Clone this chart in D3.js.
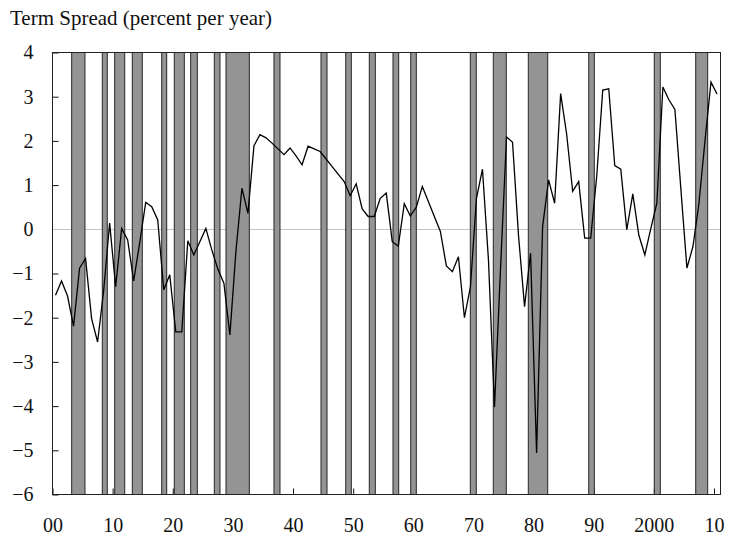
<!DOCTYPE html>
<html>
<head>
<meta charset="utf-8">
<script src="https://cdn.jsdelivr.net/npm/d3@7"></script>
<style>
  html, body { margin: 0; padding: 0; background: #fff; }
  svg text { font-family: "Liberation Serif", "Times New Roman", Times, serif; fill: #111; }
</style>
</head>
<body>
<svg id="chart" width="729" height="536"></svg>
<script>
// Annual term spread, percent per year, starting in 1900
const firstYear = 1900;
const spread = [
  -1.49, -1.17, -1.51, -2.19, -0.88, -0.66, -2.02, -2.55, -1.40, 0.14,
  -1.30, 0.02, -0.24, -1.17, -0.30, 0.61, 0.51, 0.21, -1.37, -1.03,
  -2.32, -2.32, -0.26, -0.58, -0.28, 0.02, -0.47, -0.90, -1.22, -2.39,
  -0.50, 0.93, 0.36, 1.89, 2.14, 2.07, 1.95, 1.82, 1.69, 1.84,
  1.66, 1.46, 1.88, 1.82, 1.76, 1.59, 1.42, 1.25, 1.08, 0.76,
  1.03, 0.46, 0.29, 0.29, 0.70, 0.82, -0.28, -0.38, 0.58, 0.30,
  0.50, 0.97, 0.63, 0.29, -0.05, -0.83, -0.96, -0.62, -2.00, -1.30,
  0.70, 1.36, -0.70, -4.02, -0.90, 2.09, 1.97, -0.15, -1.75, -0.54,
  -5.06, 0.06, 1.12, 0.59, 3.07, 2.15, 0.86, 1.08, -0.20, -0.20,
  1.20, 3.15, 3.18, 1.44, 1.36, -0.01, 0.80, -0.13, -0.58, 0.02,
  0.59, 3.22, 2.93, 2.71, 0.90, -0.88, -0.39, 0.59, 2.00, 3.33,
  3.06
];

// Shaded recession periods (start, end) on the same year axis
const recessionStart = [1903.19, 1908.28, 1910.34, 1913.27, 1918.16, 1920.25, 1922.98, 1926.91, 1928.85,
  1936.83, 1944.65, 1948.76, 1952.68, 1956.62, 1959.57, 1969.48, 1973.30, 1979.12, 1989.17, 2000.07, 2006.96];
const recessionEnd = [1905.40, 1909.11, 1912.01, 1914.93, 1918.99, 1921.92, 1924.08, 1927.85, 1932.73,
  1937.83, 1945.65, 1949.69, 1953.68, 1957.57, 1960.50, 1970.47, 1975.46, 1982.35, 1990.10, 2001.07, 2008.95];

// Axis ticks and their labels
const xTickYears = [1900, 1910, 1920, 1930, 1940, 1950, 1960, 1970, 1980, 1990, 2000, 2010];
const xTickLabels = ["00", "10", "20", "30", "40", "50", "60", "70", "80", "90", "2000", "10"];
const yTicks = [-6, -5, -4, -3, -2, -1, 0, 1, 2, 3, 4];

const plot = { left: 52.5, right: 720.5, top: 52.5, bottom: 494.5 };

const svg = d3.select("#chart");

const x = d3.scaleLinear().domain([1900, 2011]).range([plot.left, plot.right - 0.5]);
const y = d3.scaleLinear().domain([-6, 4]).range([plot.bottom, plot.top]);

const data = spread.map((v, i) => ({ year: firstYear + i, value: v }));
const recessions = recessionStart.map((s, i) => ({ start: s, end: recessionEnd[i] }));

// Title
svg.append("text")
  .attr("x", 10)
  .attr("y", 25)
  .attr("font-size", 21)
  .text("Term Spread (percent per year)");

// Zero reference line
svg.append("line")
  .attr("x1", plot.left).attr("x2", plot.right)
  .attr("y1", Math.round(y(0)) + 0.5).attr("y2", Math.round(y(0)) + 0.5)
  .attr("stroke", "#c4c4c4").attr("stroke-width", 1);

// Y axis: inward ticks, labels to the left
const yAxis = d3.axisLeft(y)
  .tickValues(yTicks)
  .tickSize(-6)
  .tickPadding(19)
  .tickFormat(d => d < 0 ? "\u2212" + Math.abs(d) : String(d));

const gy = svg.append("g")
  .attr("transform", `translate(${plot.left},0)`)
  .call(yAxis);
gy.select(".domain").remove();
gy.selectAll(".tick line").attr("stroke", "#111")
  .filter(d => d === 0).remove();
gy.selectAll(".tick text")
  .attr("font-size", 20)
  .attr("font-family", "'Liberation Serif', 'Times New Roman', serif")
  .attr("fill", "#111");

// X axis: inward ticks, labels below
const xAxis = d3.axisBottom(x)
  .tickValues(xTickYears)
  .tickSize(-6)
  .tickPadding(23)
  .tickFormat((d, i) => xTickLabels[i]);

const gx = svg.append("g")
  .attr("transform", `translate(0,${plot.bottom})`)
  .call(xAxis);
gx.select(".domain").remove();
gx.selectAll(".tick line").attr("stroke", "#111");
gx.selectAll(".tick text")
  .attr("font-size", 20)
  .attr("font-family", "'Liberation Serif', 'Times New Roman', serif")
  .attr("fill", "#111");

// Recession shading
svg.append("g")
  .selectAll("rect")
  .data(recessions)
  .join("rect")
  .attr("x", d => x(d.start))
  .attr("width", d => x(d.end) - x(d.start))
  .attr("y", plot.top)
  .attr("height", plot.bottom - plot.top)
  .attr("fill", "#949494")
  .attr("stroke", "#262626")
  .attr("stroke-width", 1);

// Term spread line
const line = d3.line()
  .x(d => x(d.year + 0.5))
  .y(d => y(d.value));

svg.append("path")
  .datum(data)
  .attr("d", line)
  .attr("fill", "none")
  .attr("stroke", "#000")
  .attr("stroke-width", 1.3)
  .attr("stroke-linejoin", "miter");

// Plot frame
svg.append("rect")
  .attr("x", plot.left).attr("y", plot.top)
  .attr("width", plot.right - plot.left)
  .attr("height", plot.bottom - plot.top)
  .attr("fill", "none")
  .attr("stroke", "#222")
  .attr("stroke-width", 1);
</script>
</body>
</html>
